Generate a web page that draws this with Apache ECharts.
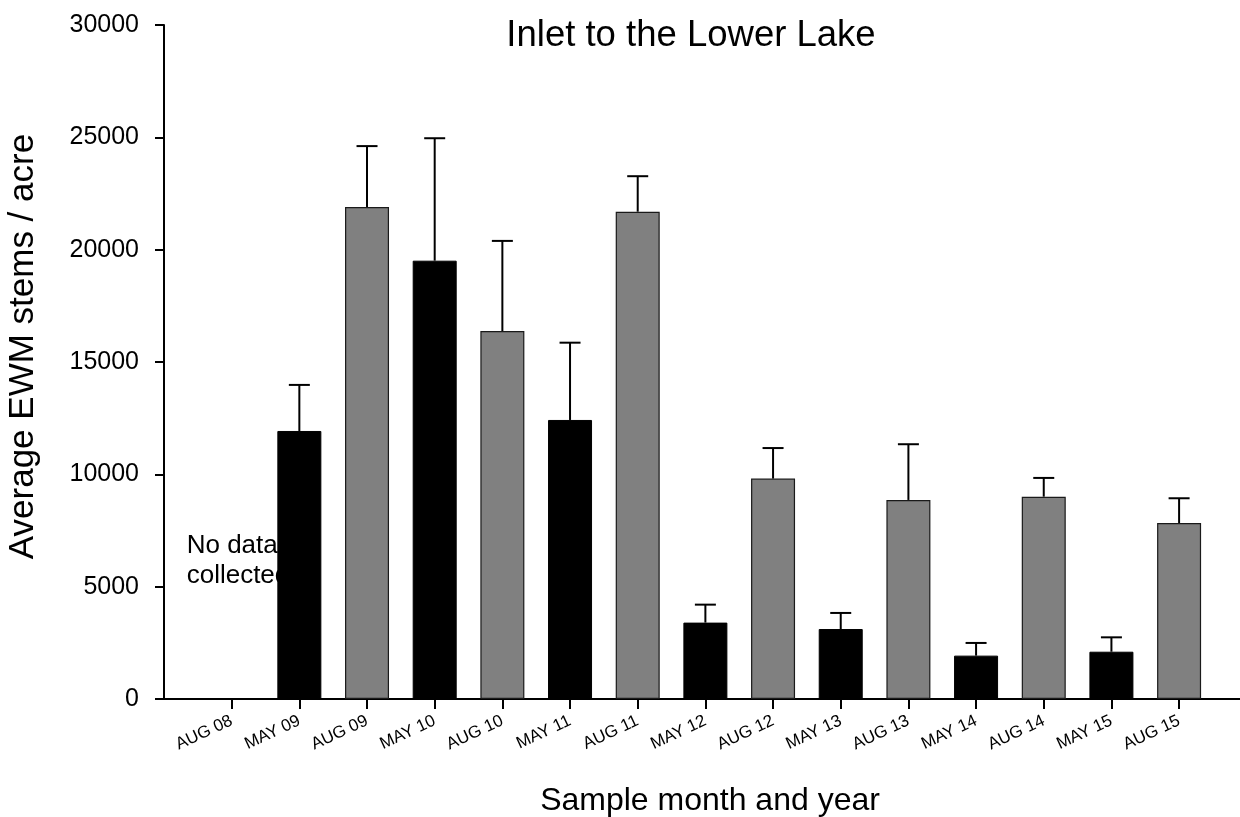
<!DOCTYPE html>
<html>
<head>
<meta charset="utf-8">
<script src="https://cdn.jsdelivr.net/npm/echarts@6/dist/echarts.min.js"></script>
<style>
html,body{margin:0;padding:0;background:#fff;}
#chart{width:1240px;height:817px;}
</style>
</head>
<body>
<div id="chart"></div>
<script>
// ---- data ----
const categories = ['AUG 08','MAY 09','AUG 09','MAY 10','AUG 10','MAY 11','AUG 11','MAY 12','AUG 12','MAY 13','AUG 13','MAY 14','AUG 14','MAY 15','AUG 15'];
const means = [null, 11930, 21900, 19510, 16380, 12420, 21690, 3400, 9810, 3115, 8860, 1930, 9005, 2105, 7835];
const errorTops = [null, 13980, 24610, 24960, 20390, 15860, 23270, 4200, 11170, 3830, 11340, 2495, 9840, 2745, 8935];
const yTicks = [0, 5000, 10000, 15000, 20000, 25000, 30000];
const titleText = 'Inlet to the Lower Lake';
const xTitle = 'Sample month and year';
const yTitle = 'Average EWM stems / acre';
const noteLines = ['No data', 'collected'];

const positions = categories.map((c, i) => i + 1);
const font = '"Liberation Sans", Arial, sans-serif';

const barData = means.map((v, i) => {
  if (v == null) return null;
  const isMay = categories[i].indexOf('MAY') === 0;
  return {
    value: [positions[i], v],
    itemStyle: isMay
      ? { color: '#000000', borderColor: '#000000', borderWidth: 1 }
      : { color: '#808080', borderColor: '#1a1a1a', borderWidth: 1.2 }
  };
}).filter(d => d);

const errData = means.map((v, i) => v == null ? null : [positions[i], v, errorTops[i]]).filter(d => d);

const chart = echarts.init(document.getElementById('chart'));
const option = {
  animation: false,
  backgroundColor: '#ffffff',
  title: {
    text: titleText,
    left: 686, top: 12, textAlign: 'center',
    textStyle: { fontFamily: font, fontSize: 36.5, fontWeight: 'normal', color: '#000' }
  },
  grid: { left: 164, right: 0, top: 25, bottom: 118, containLabel: false, outerBoundsMode: 'none' },
  xAxis: {
    type: 'value',
    min: 0, max: 15.9,
    name: xTitle,
    nameLocation: 'middle',
    nameGap: 86,
    nameTextStyle: { fontFamily: font, fontSize: 32, color: '#000', padding: [0, 0, 0, 16] },
    axisLine: { show: true, lineStyle: { color: '#000', width: 2 } },
    axisTick: { show: true, customValues: positions, length: 10, lineStyle: { color: '#000', width: 2 } },
    axisLabel: {
      customValues: positions,
      formatter: v => categories[Math.round(v) - 1] || '',
      rotate: 25, fontSize: 17, fontFamily: font, color: '#000', margin: 21
    },
    splitLine: { show: false }
  },
  yAxis: {
    type: 'value',
    min: 0, max: 30000, interval: 5000,
    name: yTitle,
    nameLocation: 'middle',
    nameGap: 123,
    nameTextStyle: { fontFamily: font, fontSize: 35, color: '#000', padding: [0, 0, 0, 31] },
    axisLine: { show: true, lineStyle: { color: '#000', width: 2 } },
    axisTick: { show: true, length: 9, lineStyle: { color: '#000', width: 2 } },
    axisLabel: {
      customValues: yTicks,
      formatter: v => String(v),
      fontSize: 25, fontFamily: font, color: '#000', margin: 25
    },
    splitLine: { show: false }
  },
  series: [
    {
      type: 'bar',
      data: barData,
      barWidth: 44,
      z: 2
    },
    {
      type: 'custom',
      z: 3,
      data: errData,
      renderItem: function (params, api) {
        const x = api.value(0);
        const low = api.coord([x, api.value(1)]);
        const high = api.coord([x, api.value(2)]);
        const half = 10.5;
        const style = { stroke: '#000', lineWidth: 2 };
        return {
          type: 'group',
          children: [
            { type: 'line', shape: { x1: low[0], y1: low[1], x2: high[0], y2: high[1] }, style: style },
            { type: 'line', shape: { x1: high[0] - half, y1: high[1], x2: high[0] + half, y2: high[1] }, style: style }
          ]
        };
      }
    }
  ]
};
chart.setOption(option);

// "No data collected" note, placed under the bars
const p = chart.convertToPixel({ gridIndex: 0 }, [positions[0], 0]);
chart.setOption({
  graphic: [{
    type: 'text',
    z: 0,
    zlevel: 0,
    x: p[0] - 45,
    y: 531,
    style: {
      text: noteLines.join('\n'),
      fontFamily: font,
      fontSize: 26,
      lineHeight: 30,
      fill: '#000',
      align: 'left',
      verticalAlign: 'top'
    }
  }]
});
</script>
</body>
</html>
